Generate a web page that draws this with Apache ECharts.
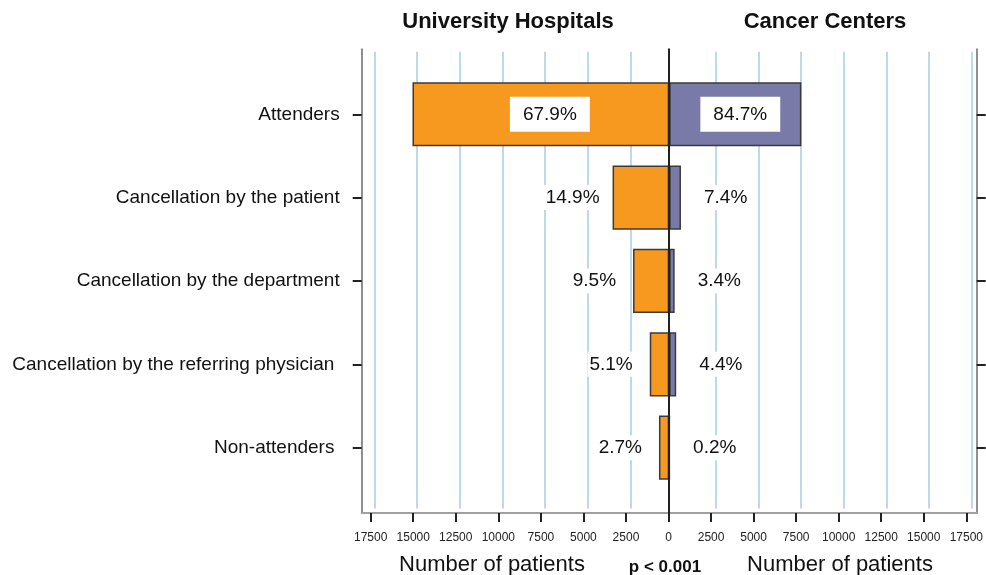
<!DOCTYPE html>
<html>
<head>
<meta charset="utf-8">
<script src="https://cdn.jsdelivr.net/npm/echarts@6/dist/echarts.min.js"></script>
<style>
  html, body { margin: 0; padding: 0; background: #fff; }
  #chart { width: 986px; height: 575px; }
</style>
</head>
<body>
<div id="chart"></div>
<script>
// ---- data ----
const categories = ['Attenders', 'Cancellation by the patient', 'Cancellation by the department', 'Cancellation by the referring physician ', 'Non-attenders '];
const universityHospitals = [15050, 3320, 2120, 1140, 600];
const cancerCenters = [7750, 690, 320, 410, 20];
const uhPercent = ['67.9%', '14.9%', '9.5%', '5.1%', '2.7%'];
const ccPercent = ['84.7%', '7.4%', '3.4%', '4.4%', '0.2%'];
const axisMax = 17500;
const tickInterval = 2500;
const leftTitle = 'University Hospitals';
const rightTitle = 'Cancer Centers';
const xAxisName = 'Number of patients';
const pText = 'p < 0.001';

// ---- chart ----
const FONT = '"Liberation Sans", Arial, sans-serif';
const chart = echarts.init(document.getElementById('chart'), null, { renderer: 'canvas' });

const nTicks = Math.round(2 * axisMax / tickInterval) + 1;
const splitColors = [];
for (let i = 0; i < nTicks; i++) splitColors.push(i === (nTicks - 1) / 2 ? 'rgba(0,0,0,0)' : '#a9cbe6');

function insideBox(off) {
  return {
    show: true, position: 'inside', offset: [off, 0],
    backgroundColor: '#fff', padding: [8, 13],
    color: '#111', fontSize: 19, fontFamily: FONT
  };
}
function outsideLabel(pos, dist) {
  return {
    show: true, position: pos, distance: dist,
    backgroundColor: '#fff', padding: [3, 2],
    color: '#111', fontSize: 19, fontFamily: FONT
  };
}

const uhData = universityHospitals.map((v, i) => ({
  value: -v,
  label: Object.assign(i === 0 ? insideBox(9) : outsideLabel('left', i === 1 ? 11 : 15), { formatter: uhPercent[i] })
}));
const ccData = cancerCenters.map((v, i) => ({
  value: v,
  label: Object.assign(i === 0 ? insideBox(5) : outsideLabel('right', 21), { formatter: ccPercent[i] })
}));

const barsGrid = { left: 370.7, right: 18.3, top: 72.6, bottom: 85.7 };
const splitGrid = { left: 374.3, right: 14.3, top: 51.7, bottom: 66.5 };
const frameGrid = { left: 361.7, right: 9.3, top: 49.3, bottom: 62 };
const tickGrid = { left: 370.7, right: 18.3, top: 49.3, bottom: 62 };

const hidden = { show: false };
const catTick = { show: true, alignWithLabel: true, length: 9, lineStyle: { color: '#222', width: 2 } };

const option = {
  animation: false,
  backgroundColor: '#fff',
  textStyle: { fontFamily: FONT },
  grid: [barsGrid, splitGrid, frameGrid, tickGrid],
  xAxis: [
    { gridIndex: 0, type: 'value', min: -axisMax, max: axisMax, interval: tickInterval,
      axisLine: hidden, axisTick: hidden, axisLabel: hidden, splitLine: hidden },
    { gridIndex: 1, type: 'value', min: -axisMax, max: axisMax, interval: tickInterval,
      axisLine: hidden, axisTick: hidden, axisLabel: hidden,
      splitLine: { show: true, lineStyle: { color: splitColors, width: 1.5 } } },
    { gridIndex: 2, type: 'value', min: 0, max: 1,
      axisLine: { show: true, onZero: false, lineStyle: { color: '#a0a0a0', width: 2 } },
      axisTick: hidden, axisLabel: hidden, splitLine: hidden },
    { gridIndex: 3, type: 'value', min: -axisMax, max: axisMax, interval: tickInterval,
      axisLine: { show: false, onZero: false },
      axisTick: { show: true, length: 9, lineStyle: { color: '#222', width: 2 } },
      axisLabel: { show: true, margin: 19, fontSize: 12, color: '#222', fontFamily: FONT,
        formatter: v => String(Math.abs(v)) },
      splitLine: hidden }
  ],
  yAxis: [
    { gridIndex: 0, type: 'category', data: categories, inverse: true, position: 'left', offset: 9,
      axisLine: { show: false, onZero: false },
      axisTick: catTick,
      axisLabel: { show: true, margin: 22, fontSize: 19, color: '#111', fontFamily: FONT } },
    { gridIndex: 0, type: 'category', data: categories, inverse: true, position: 'right', offset: 9,
      axisLine: { show: false, onZero: false },
      axisTick: catTick,
      axisLabel: hidden },
    { gridIndex: 1, type: 'value', min: 0, max: 1,
      axisLine: hidden, axisTick: hidden, axisLabel: hidden, splitLine: hidden },
    { gridIndex: 2, type: 'value', min: 0, max: 1, position: 'left',
      axisLine: { show: true, onZero: false, lineStyle: { color: '#8f8f8f', width: 2 } },
      axisTick: hidden, axisLabel: hidden, splitLine: hidden },
    { gridIndex: 2, type: 'value', min: 0, max: 1, position: 'right',
      axisLine: { show: true, onZero: false, lineStyle: { color: '#8f8f8f', width: 2 } },
      axisTick: hidden, axisLabel: hidden, splitLine: hidden },
    { gridIndex: 3, type: 'value', min: 0, max: 1, z: 10,
      axisLine: { show: true, onZero: true, lineStyle: { color: '#222', width: 2 } },
      axisTick: hidden, axisLabel: hidden, splitLine: hidden }
  ],
  series: [
    { name: leftTitle, type: 'bar', xAxisIndex: 0, yAxisIndex: 0,
      data: uhData, barWidth: '77%', barGap: '-100%',
      itemStyle: { color: '#f7991e', borderColor: '#3a3a3a', borderWidth: 1.5 } },
    { name: rightTitle, type: 'bar', xAxisIndex: 0, yAxisIndex: 0,
      data: ccData, barWidth: '77%', barGap: '-100%',
      itemStyle: { color: '#7a7aa8', borderColor: '#3a3a3a', borderWidth: 1.5 } }
  ],
  graphic: [
    { type: 'text', x: 508, y: 22, style: { text: leftTitle, font: 'bold 22px ' + FONT, fill: '#111', align: 'center', verticalAlign: 'middle' } },
    { type: 'text', x: 825, y: 22, style: { text: rightTitle, font: 'bold 22px ' + FONT, fill: '#111', align: 'center', verticalAlign: 'middle' } },
    { type: 'text', x: 492, y: 565, style: { text: xAxisName, font: '22px ' + FONT, fill: '#111', align: 'center', verticalAlign: 'middle' } },
    { type: 'text', x: 840, y: 565, style: { text: xAxisName, font: '22px ' + FONT, fill: '#111', align: 'center', verticalAlign: 'middle' } },
    { type: 'text', x: 665, y: 567, style: { text: pText, font: 'bold 17px ' + FONT, fill: '#111', align: 'center', verticalAlign: 'middle' } }
  ]
};

chart.setOption(option);
</script>
</body>
</html>
